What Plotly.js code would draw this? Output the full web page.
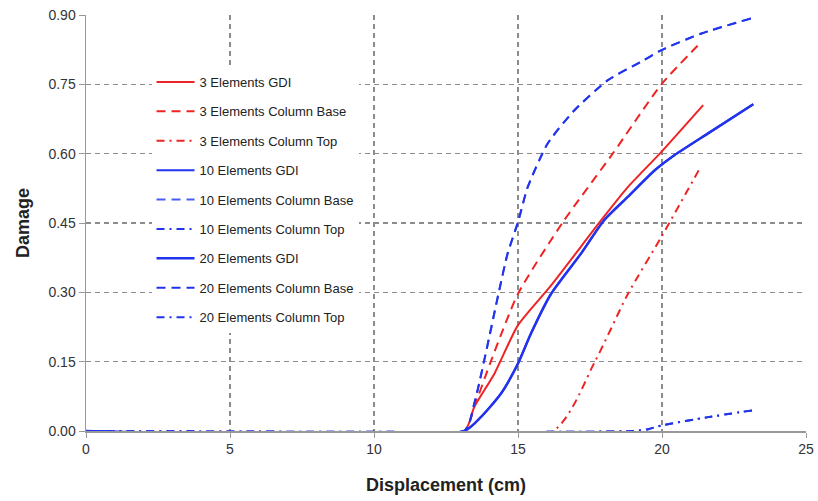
<!DOCTYPE html>
<html>
<head>
<meta charset="utf-8">
<script src="https://cdn.plot.ly/plotly-3.0.1.min.js"></script>
<style>html,body{margin:0;padding:0;background:#fff;}#chart{width:818px;height:501px;}</style>
</head>
<body>
<div id="chart"></div>
<script>
// Series data (displacement in cm, damage)
const gdi3X = [0, 13.13, 13.48, 14.18, 15.0, 16.15, 17.89, 18.82, 19.98, 21.43];
const gdi3Y = [0, 0, 0.052, 0.124, 0.229, 0.315, 0.456, 0.528, 0.604, 0.705];

const base3X = [0, 13.13, 13.48, 14.06, 15.0, 16.56, 18.30, 19.98, 21.37];
const base3Y = [0, 0, 0.052, 0.151, 0.297, 0.452, 0.601, 0.750, 0.842];

const top3X = [0, 16.21, 17.66, 18.82, 19.98, 21.31];
const top3Y = [0, 0, 0.149, 0.297, 0.420, 0.568];

const gdiBlueX = [0, 13.13, 13.71, 14.41, 15.0, 15.45, 16.15, 17.19, 17.99, 18.82, 19.75, 20.44, 21.6, 23.17];
const gdiBlueY = [0, 0, 0.030, 0.081, 0.146, 0.211, 0.297, 0.384, 0.456, 0.507, 0.564, 0.597, 0.644, 0.707];

const baseBlueX = [0, 13.13, 13.48, 14.35, 14.64, 15.0, 15.34, 16.03, 16.96, 18.12, 19.28, 19.98, 21.37, 23.11];
const baseBlueY = [0, 0, 0.059, 0.305, 0.384, 0.452, 0.528, 0.622, 0.694, 0.759, 0.799, 0.824, 0.860, 0.893];

const topBlueX = [0, 18.99, 19.52, 19.98, 21.6, 23.17];
const topBlueY = [0, 0, 0.004, 0.012, 0.030, 0.045];

const seriesNames = [
  '3 Elements GDI', '3 Elements Column Base', '3 Elements Column Top',
  '10 Elements GDI', '10 Elements Column Base', '10 Elements Column Top',
  '20 Elements GDI', '20 Elements Column Base', '20 Elements Column Top'
];

const RED = '#ee2424';
const BLUE = '#2233ee';
const DASH = '9px,6px';
const DASHDOT = '8px,5px,2px,5px';

function tr(name, x, y, color, dash, width, group) {
  return {
    type: 'scatter', mode: 'lines', name: name, x: x, y: y,
    legendgroup: group,
    line: {color: color, dash: dash, width: width, shape: 'spline', smoothing: 0.6},
    hoverinfo: 'skip'
  };
}

const data = [
  tr(seriesNames[0], gdi3X, gdi3Y, RED, 'solid', 2, 'g0'),
  tr(seriesNames[1], base3X, base3Y, RED, DASH, 2, 'g1'),
  tr(seriesNames[2], top3X, top3Y, RED, DASHDOT, 2, 'g2'),
  tr(seriesNames[3], gdiBlueX, gdiBlueY, BLUE, 'solid', 2, 'g3'),
  tr(seriesNames[4], baseBlueX, baseBlueY, '#4a5cf2', DASH, 2, 'g4'),
  tr(seriesNames[5], topBlueX, topBlueY, BLUE, DASHDOT, 2, 'g5'),
  tr(seriesNames[6], gdiBlueX, gdiBlueY, BLUE, 'solid', 2.5, 'g6'),
  tr(seriesNames[7], baseBlueX, baseBlueY, BLUE, DASH, 2, 'g7'),
  tr(seriesNames[8], topBlueX, topBlueY, BLUE, DASHDOT, 2, 'g8')
];

const layout = {
  width: 818, height: 501,
  margin: {l: 86, r: 12, t: 15, b: 70},
  paper_bgcolor: '#ffffff', plot_bgcolor: '#ffffff',
  font: {family: 'Liberation Sans, Arial, sans-serif', color: '#333333', size: 14},
  showlegend: true,
  legend: {
    x: 0.091, y: 0.875, xanchor: 'left', yanchor: 'top',
    bgcolor: '#ffffff', borderwidth: 0,
    font: {size: 13, color: '#222222', family: 'Liberation Sans, Arial, sans-serif'},
    traceorder: 'grouped', tracegroupgap: 9.5, itemwidth: 38
  },
  xaxis: {
    range: [0, 25], dtick: 5, tick0: 0,
    showgrid: true, gridcolor: '#8c8c8c', griddash: '5px,4px', gridwidth: 1.2,
    zeroline: false, showline: true, linecolor: '#999999', linewidth: 1.5,
    ticks: 'outside', ticklen: 5, tickcolor: '#999999',
    tickfont: {size: 14, color: '#333333'},
    title: {text: '<b>Displacement (cm)</b>', font: {size: 18, color: '#222222'}, standoff: 22}
  },
  yaxis: {
    range: [0, 0.9], dtick: 0.15, tick0: 0, tickformat: '.2f',
    showgrid: true, gridcolor: '#8c8c8c', griddash: '5px,4px', gridwidth: 1.2,
    zeroline: false, showline: true, linecolor: '#999999', linewidth: 1.5,
    ticks: 'outside', ticklen: 6, tickcolor: '#999999',
    tickfont: {size: 14, color: '#333333'},
    title: {text: '<b>Damage</b>', font: {size: 18, color: '#222222'}, standoff: 14}
  }
};

Plotly.newPlot('chart', data, layout, {displayModeBar: false, staticPlot: true});
</script>
</body>
</html>
